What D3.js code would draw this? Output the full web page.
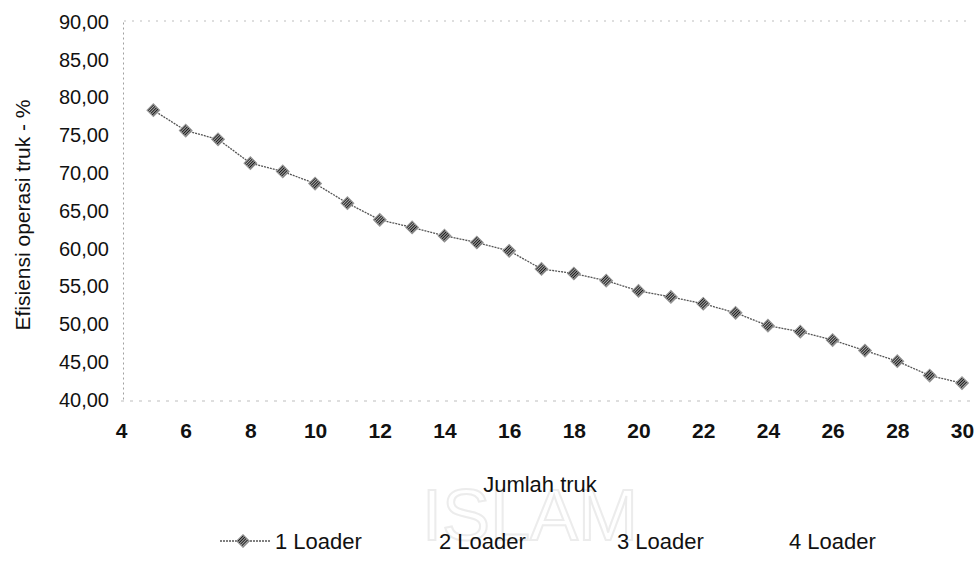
<!DOCTYPE html>
<html>
<head>
<meta charset="utf-8">
<script src="https://cdn.jsdelivr.net/npm/d3@7"></script>
<style>
  html, body { margin: 0; padding: 0; background: #fff; }
  svg { display: block; font-family: "Liberation Sans", Arial, sans-serif; }
</style>
</head>
<body>
<svg id="chart" width="976" height="568"></svg>
<script>
// ---- data ----
const trucks = [5, 6, 7, 8, 9, 10, 11, 12, 13, 14, 15, 16, 17, 18, 19, 20, 21, 22, 23, 24, 25, 26, 27, 28, 29, 30];
const loader1 = [78.2, 75.5, 74.35, 71.2, 70.1, 68.5, 65.9, 63.7, 62.7, 61.6, 60.7, 59.6, 57.2, 56.6, 55.65, 54.3, 53.5, 52.6, 51.4, 49.7, 48.9, 47.8, 46.4, 45.0, 43.1, 42.1];
const seriesNames = ["1 Loader", "2 Loader", "3 Loader", "4 Loader"];
const yTicks = [40, 45, 50, 55, 60, 65, 70, 75, 80, 85, 90];
const xTicks = [4, 6, 8, 10, 12, 14, 16, 18, 20, 22, 24, 26, 28, 30];
const xTitle = "Jumlah truk";
const yTitle = "Efisiensi operasi truk - %";
const watermark = "ISLAM";

const svg = d3.select("#chart");

// hatched marker fill
const defs = svg.append("defs");
const pat = defs.append("pattern").attr("id", "hatch")
  .attr("patternUnits", "userSpaceOnUse").attr("width", 2).attr("height", 2);
pat.append("rect").attr("width", 2).attr("height", 2).attr("fill", "#a8a8a8");
pat.append("rect").attr("width", 1).attr("height", 2).attr("fill", "#1a1a1a");

const x = d3.scaleLinear().domain([4, 30]).range([121, 962]);
const y = d3.scaleLinear().domain([40, 90]).range([399, 21]);

// faint scanned watermark
svg.append("text").attr("x", 530).attr("y", 540).attr("text-anchor", "middle")
  .attr("font-size", 72).attr("fill", "none").attr("stroke", "#ececec").attr("stroke-width", 2)
  .text(watermark);

// plot frame (faint dotted)
svg.append("line").attr("x1", x(4) + 3).attr("x2", 972).attr("y1", y(90)).attr("y2", y(90))
  .attr("stroke", "#bdbdbd").attr("stroke-dasharray", "2,6");
svg.append("line").attr("x1", x(4)).attr("x2", 975).attr("y1", y(40) + 2).attr("y2", y(40) + 2)
  .attr("stroke", "#bdbdbd").attr("stroke-dasharray", "3,6");

// y axis
const yAxis = d3.axisLeft(y).tickValues(yTicks).tickSize(0).tickPadding(14)
  .tickFormat(d => d3.format(".2f")(d).replace(".", ","));
const gy = svg.append("g").attr("transform", `translate(${x(4) + 2},0)`).call(yAxis);
gy.select(".domain").attr("stroke", "#a0a0a0").attr("stroke-dasharray", "2,3");
gy.selectAll("text").attr("font-size", 20).attr("fill", "#111")
  .attr("font-family", "'Liberation Sans', Arial, sans-serif").attr("dy", "0.36em");

// x axis (labels only)
const xAxis = d3.axisBottom(x).tickValues(xTicks).tickSize(0).tickPadding(24);
const gx = svg.append("g").attr("transform", `translate(0,${y(40)})`).call(xAxis);
gx.select(".domain").remove();
gx.selectAll("text").attr("font-size", 21).attr("fill", "#111").attr("font-weight", "bold")
  .attr("font-family", "'Liberation Sans', Arial, sans-serif");

// titles
svg.append("text").attr("x", 540).attr("y", 492).attr("text-anchor", "middle")
  .attr("font-size", 22).attr("fill", "#111").text(xTitle);
svg.append("text").attr("transform", "translate(30,215) rotate(-90)").attr("text-anchor", "middle")
  .attr("font-size", 21).attr("fill", "#111").text(yTitle);

// series line
const pts = trucks.map((t, i) => [t, loader1[i]]);
svg.append("path").datum(pts)
  .attr("d", d3.line().x(d => x(d[0])).y(d => y(d[1])))
  .attr("fill", "none").attr("stroke", "#555").attr("stroke-width", 1.3).attr("stroke-dasharray", "2,1");

const sym = d3.symbol().type(d3.symbolSquare).size(82);
svg.append("g").selectAll("path").data(pts).join("path")
  .attr("transform", d => `translate(${x(d[0])},${y(d[1])}) rotate(45)`)
  .attr("d", sym).attr("fill", "url(#hatch)").attr("stroke", "#999").attr("stroke-width", 1);

// legend
const legY = 541;
const legX = [275, 439, 617, 789];
svg.append("line").attr("x1", 220).attr("x2", 270).attr("y1", legY).attr("y2", legY)
  .attr("stroke", "#555").attr("stroke-width", 1.3).attr("stroke-dasharray", "2,1");
svg.append("path").attr("transform", `translate(243,${legY}) rotate(45)`).attr("d", sym)
  .attr("fill", "url(#hatch)").attr("stroke", "#999").attr("stroke-width", 1);
svg.append("g").selectAll("text").data(seriesNames).join("text")
  .attr("x", (d, i) => legX[i]).attr("y", legY).attr("dy", "0.36em")
  .attr("font-size", 22).attr("fill", "#111").text(d => d);
</script>
</body>
</html>
